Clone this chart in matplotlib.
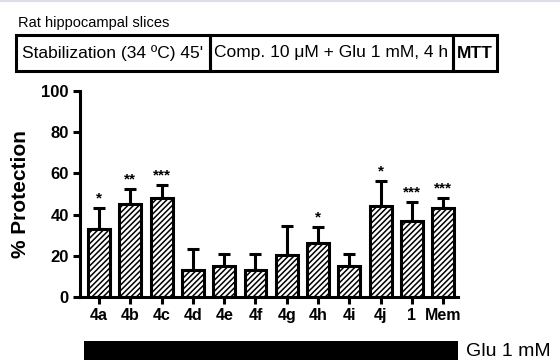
import matplotlib
matplotlib.use('Agg')
import matplotlib.pyplot as plt
from matplotlib.patches import Rectangle
from matplotlib.lines import Line2D

plt.rcParams['font.family'] = ['Liberation Sans', 'DejaVu Sans']
plt.rcParams['hatch.linewidth'] = 1.1

# data
labels = ['4a', '4b', '4c', '4d', '4e', '4f', '4g', '4h', '4i', '4j', '1', 'Mem']
protection = [32.8, 45.2, 48.3, 13.0, 15.0, 13.0, 20.2, 26.0, 15.0, 44.2, 37.1, 43.1]
sem = [10.6, 7.2, 6.0, 10.1, 6.1, 8.1, 14.3, 8.1, 6.1, 12.2, 9.1, 5.2]
stars = ['*', '**', '***', '', '', '', '', '*', '', '*', '***', '***']

W, H = 560, 360


def fx(px):
    return px / W


def fy(py):
    return 1 - py / H


fig = plt.figure(figsize=(W / 100, H / 100), dpi=100)

ax = fig.add_axes([fx(80), fy(297), fx(458) - fx(80), fy(91) - fy(297)])
x = list(range(len(labels)))
ax.bar(x, protection, width=0.7, color='white', edgecolor='black',
       linewidth=2.2, hatch='//////', zorder=2)
ax.errorbar(x, protection, yerr=[[0] * len(sem), sem], fmt='none',
            ecolor='black', elinewidth=2.2, capsize=4.3, capthick=2.2, zorder=1)
for i in x:
    if stars[i]:
        ax.text(i, protection[i] + sem[i] + 4.5, stars[i], ha='center',
                va='center', fontsize=11, fontweight='bold')

ax.set_xlim(-0.607, 11.47)
ax.set_ylim(0, 100)
ax.set_yticks([0, 20, 40, 60, 80, 100])
ax.set_xticks(x)
ax.set_xticklabels(labels, fontsize=11.5, fontweight='bold')
for t in ax.get_yticklabels():
    t.set_fontsize(12)
    t.set_fontweight('bold')
ax.tick_params(axis='both', width=2.2, length=5, direction='out', pad=3)
ax.spines['top'].set_visible(False)
ax.spines['right'].set_visible(False)
ax.spines['left'].set_linewidth(2.2)
ax.spines['bottom'].set_linewidth(2.2)
ax.set_ylabel('% Protection', fontsize=15, fontweight='bold', labelpad=8)

# protocol boxes on top
fig.text(fx(18), fy(23), 'Rat hippocampal slices', fontsize=10.5, va='center')
boxes = [(16, 210, 'Stabilization (34 ºC) 45\'', 'normal'),
         (210, 453, 'Comp. 10 μM + Glu 1 mM, 4 h', 'normal'),
         (453, 497, 'MTT', 'bold')]
for x0, x1, txt, wt in boxes:
    fig.patches.append(Rectangle((fx(x0), fy(71)), fx(x1) - fx(x0), fy(35) - fy(71),
                                 transform=fig.transFigure, fill=False,
                                 edgecolor='black', linewidth=2.2))
    fig.text(fx((x0 + x1) / 2), fy(53), txt, fontsize=12.5, fontweight=wt,
             ha='center', va='center')

# glutamate bar below
fig.patches.append(Rectangle((fx(84), 0), fx(458) - fx(84), fy(341),
                             transform=fig.transFigure, facecolor='black',
                             edgecolor='none'))
fig.text(fx(466), fy(351), 'Glu 1 mM', fontsize=14, va='center')

fig.lines.append(Line2D([0, 1], [fy(1), fy(1)], transform=fig.transFigure,
                        color='#dcdcec', linewidth=1.5))

fig.savefig('out.png', dpi=100)
